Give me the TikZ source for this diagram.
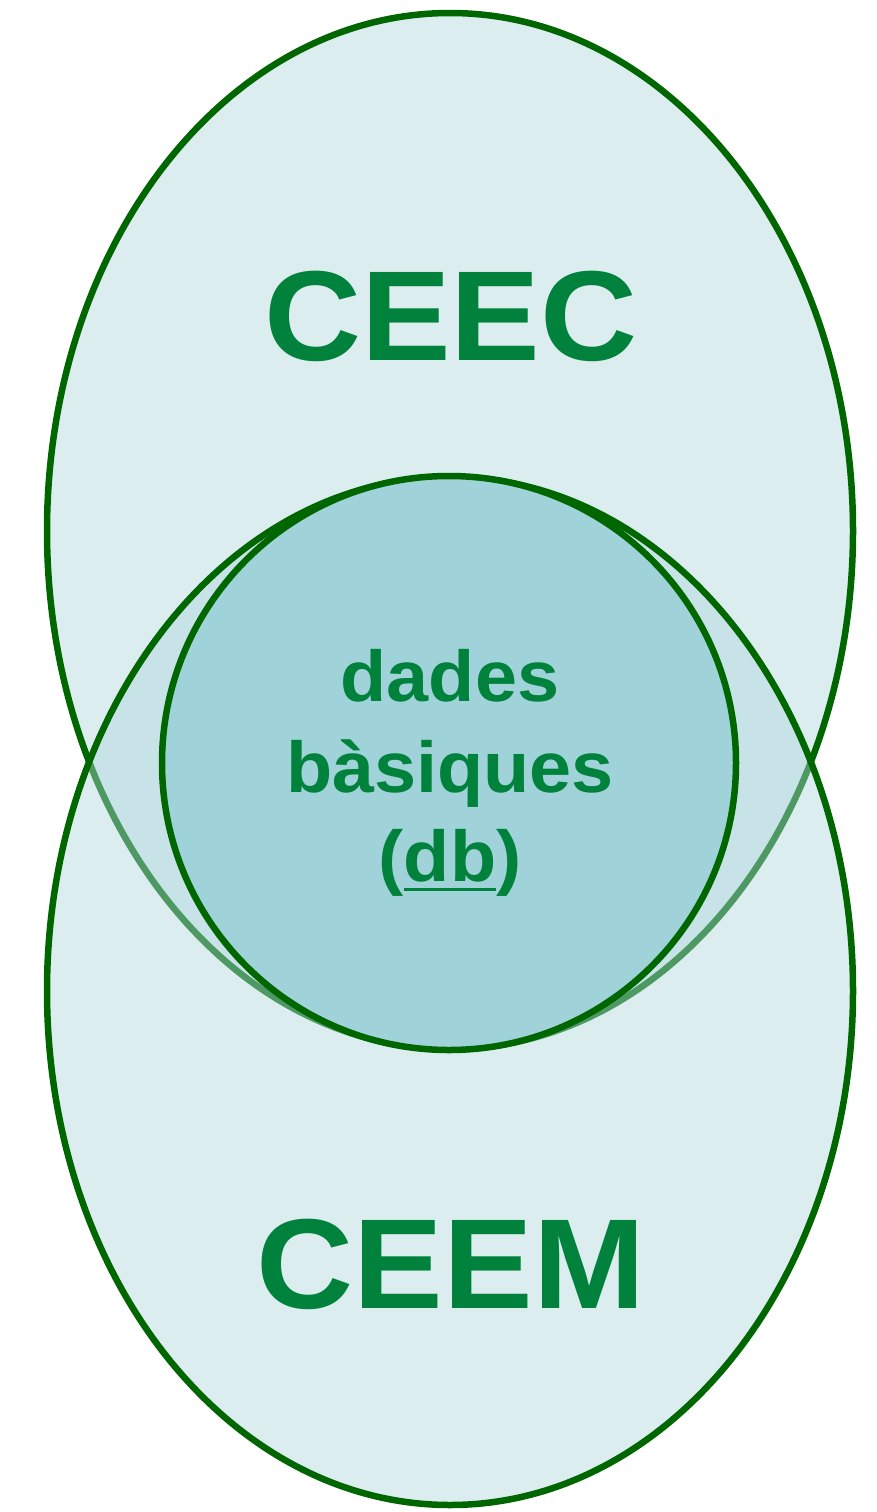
\documentclass[tikz,border=0pt]{standalone}
\usepackage{fontspec}
\setmainfont{Liberation Sans}[FakeStretch=1.05]
\definecolor{setfill}{RGB}{175,215,220}
\definecolor{corefill}{RGB}{160,211,217}
\definecolor{edge}{RGB}{0,102,0}
\definecolor{label}{RGB}{0,130,60}
\newcommand\myul[1]{\setbox0\hbox{#1}\rlap{\raisebox{-10pt}{\rule{\wd0}{3.5pt}}}\box0}
\tikzset{
  setshape/.style={ellipse, draw=edge, line width=6.5pt, fill=setfill, fill opacity=0.45, draw opacity=1, inner sep=0pt},
  bigtext/.style={text=label, font=\fontsize{128}{128}\selectfont\bfseries, anchor=base, inner sep=0pt, text opacity=1},
  midtext/.style={text=label, font=\fontsize{72}{72}\selectfont\bfseries, anchor=base, inner sep=0pt},
}
\usetikzlibrary{shapes.geometric}
\begin{document}
\begin{tikzpicture}[x=1pt,y=-1pt]
\useasboundingbox (0,0) rectangle (877,1512);
\node[setshape, minimum width=806pt, minimum height=1036pt] (ceec) at (450,531) {};
\node[setshape, minimum width=806pt, minimum height=1028pt] (ceem) at (450,991) {};
\node[circle, draw=edge, line width=6.5pt, fill=corefill, minimum size=574pt, inner sep=0pt] (db) at (449,763) {};
\node[bigtext] (ceecl) at (451,360) {CEEC};
\node[bigtext] (ceeml) at (451,1308) {CEEM};
\node[midtext] (t1) at (450,701) {dades};
\node[midtext] (t2) at (450,792) {bàsiques};
\node[midtext] (t3) at (450,881) {(\myul{db})};
\end{tikzpicture}
\end{document}
